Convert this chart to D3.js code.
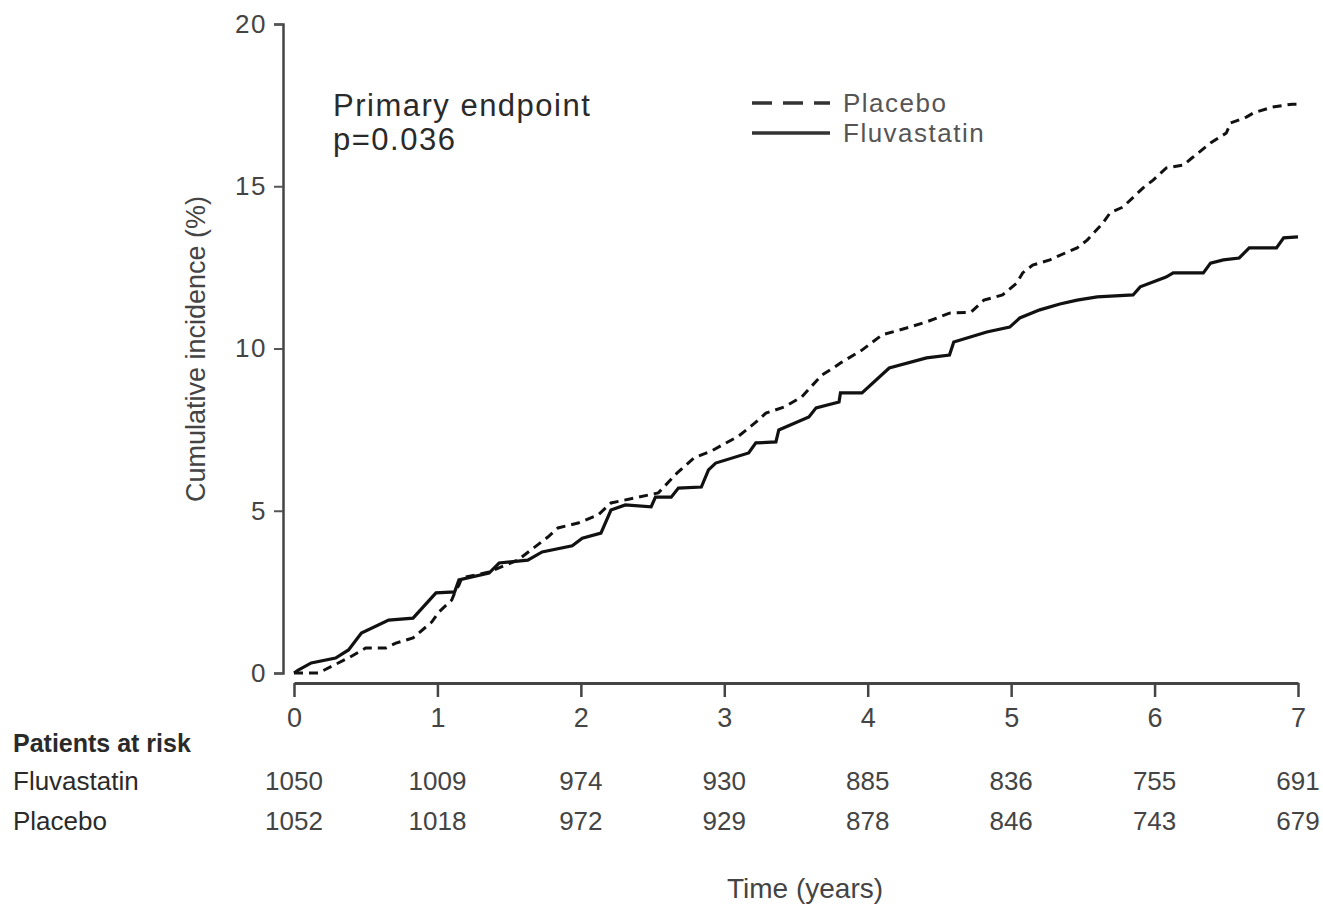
<!DOCTYPE html>
<html>
<head>
<meta charset="utf-8">
<script src="https://cdn.jsdelivr.net/npm/d3@7"></script>
<style>
  body { margin: 0; background: #fff; }
  svg text { font-family: "Liberation Sans", Arial, sans-serif; fill: #2a2a2a; }
</style>
</head>
<body>
<div id="chart"></div>
<script>
// data (time in years, cumulative incidence in %)
const fluvastatin = [
  [0, 0], [0.03, 0.09], [0.12, 0.31], [0.29, 0.46], [0.38, 0.71], [0.47, 1.23],
  [0.66, 1.63], [0.83, 1.69], [0.99, 2.47], [1.12, 2.5], [1.15, 2.87], [1.36, 3.08],
  [1.43, 3.39], [1.63, 3.48], [1.73, 3.73], [1.94, 3.92], [2.01, 4.15], [2.14, 4.31],
  [2.21, 5.02], [2.31, 5.18], [2.49, 5.12], [2.52, 5.42], [2.63, 5.42], [2.68, 5.7],
  [2.84, 5.73], [2.89, 6.26], [2.94, 6.47], [3.17, 6.78], [3.22, 7.09], [3.36, 7.12],
  [3.38, 7.49], [3.59, 7.89], [3.64, 8.17], [3.8, 8.35], [3.81, 8.63], [3.96, 8.63],
  [4.15, 9.4], [4.41, 9.71], [4.57, 9.8], [4.6, 10.2], [4.83, 10.51], [4.99, 10.66],
  [5.06, 10.94], [5.2, 11.19], [5.34, 11.37], [5.46, 11.49], [5.6, 11.59], [5.85, 11.65],
  [5.9, 11.9], [6.08, 12.2], [6.13, 12.33], [6.34, 12.33], [6.39, 12.63], [6.48, 12.73],
  [6.59, 12.79], [6.66, 13.1], [6.85, 13.1], [6.9, 13.41], [7.0, 13.44]
];
const placebo = [
  [0, 0], [0.17, 0], [0.39, 0.49], [0.5, 0.77], [0.64, 0.77], [0.71, 0.92],
  [0.83, 1.08], [0.96, 1.57], [1.01, 1.88], [1.1, 2.25], [1.12, 2.47], [1.15, 2.71],
  [1.17, 2.93], [1.36, 3.11], [1.56, 3.48], [1.77, 4.19], [1.84, 4.47], [1.98, 4.62],
  [2.12, 4.87], [2.21, 5.24], [2.54, 5.55], [2.67, 6.16], [2.79, 6.63], [2.91, 6.84],
  [3.0, 7.06], [3.1, 7.3], [3.22, 7.73], [3.29, 8.01], [3.42, 8.2], [3.54, 8.51],
  [3.68, 9.18], [3.77, 9.43], [3.82, 9.58], [3.96, 9.95], [4.1, 10.42], [4.27, 10.63],
  [4.41, 10.82], [4.57, 11.09], [4.72, 11.12], [4.81, 11.49], [4.94, 11.65], [5.04, 12.02],
  [5.08, 12.33], [5.15, 12.57], [5.27, 12.73], [5.39, 12.97], [5.46, 13.1], [5.53, 13.34],
  [5.64, 13.87], [5.69, 14.18], [5.78, 14.36], [5.92, 14.95], [5.99, 15.19], [6.08, 15.56],
  [6.2, 15.65], [6.26, 15.87], [6.39, 16.33], [6.5, 16.64], [6.53, 16.95], [6.64, 17.13],
  [6.69, 17.26], [6.82, 17.44], [6.96, 17.53], [7.0, 17.53]
];
const xTicks = [0, 1, 2, 3, 4, 5, 6, 7];
const yTicks = [0, 5, 10, 15, 20];
const riskFluvastatin = [1050, 1009, 974, 930, 885, 836, 755, 691];
const riskPlacebo = [1052, 1018, 972, 929, 878, 846, 743, 679];

const W = 1323, H = 904;
const svg = d3.select("#chart").append("svg")
  .attr("width", W)
  .attr("height", H);

const x = d3.scaleLinear().domain([0, 7]).range([294, 1298]);
const y = d3.scaleLinear().domain([0, 20]).range([673, 24]);

// y axis
const yAxis = svg.append("g")
  .attr("transform", "translate(283,0)")
  .call(d3.axisLeft(y).tickValues(yTicks).tickSize(9).tickPadding(7).tickFormat(d3.format("d")));
yAxis.select(".domain").attr("stroke", "#444").attr("stroke-width", 2.5);
yAxis.selectAll(".tick line").attr("stroke", "#555").attr("stroke-width", 2);
yAxis.selectAll(".tick text")
  .style("font-size", "26px").style("letter-spacing", "1.5px")
  .style("fill", "#444").attr("font-family", null);

// x axis
const xAxis = svg.append("g")
  .attr("transform", "translate(0,683)")
  .call(d3.axisBottom(x).tickValues(xTicks).tickSize(14).tickPadding(11)
    .tickSizeOuter(0).tickFormat(d3.format("d")));
xAxis.select(".domain").attr("stroke", "#444").attr("stroke-width", 3);
xAxis.selectAll(".tick line").attr("stroke", "#444").attr("stroke-width", 2.5);
xAxis.selectAll(".tick text")
  .style("font-size", "27px").style("fill", "#444").attr("font-family", null);

// curves
const line = d3.line().x(d => x(d[0])).y(d => y(d[1]));

svg.append("path")
  .datum(placebo)
  .attr("d", line)
  .attr("fill", "none")
  .attr("stroke", "#111")
  .attr("stroke-width", 3)
  .attr("stroke-dasharray", "9,6");

svg.append("path")
  .datum(fluvastatin)
  .attr("d", line)
  .attr("fill", "none")
  .attr("stroke", "#111")
  .attr("stroke-width", 3.2);

// annotation
svg.append("text").attr("x", 333).attr("y", 116)
  .style("font-size", "31px").style("letter-spacing", "1.5px").text("Primary endpoint");
svg.append("text").attr("x", 333).attr("y", 150)
  .style("font-size", "31px").style("letter-spacing", "1.5px").text("p=0.036");

// legend
const legend = [
  {name: "Placebo", dash: "20,11", y: 103},
  {name: "Fluvastatin", dash: null, y: 133}
];
legend.forEach(l => {
  svg.append("line")
    .attr("x1", 752).attr("x2", 830)
    .attr("y1", l.y).attr("y2", l.y)
    .attr("stroke", "#333").attr("stroke-width", 3.5)
    .attr("stroke-dasharray", l.dash);
  svg.append("text").attr("x", 843).attr("y", l.y + 9)
    .style("font-size", "26px").style("letter-spacing", "1.5px")
    .style("fill", "#555").text(l.name);
});

// axis titles
svg.append("text")
  .attr("transform", "translate(205,349) rotate(-90)")
  .attr("text-anchor", "middle")
  .style("font-size", "27px").style("fill", "#444")
  .text("Cumulative incidence (%)");

svg.append("text")
  .attr("x", 805).attr("y", 898)
  .attr("text-anchor", "middle")
  .style("font-size", "28px").style("fill", "#444")
  .text("Time (years)");

// patients at risk table
svg.append("text").attr("x", 13).attr("y", 752)
  .style("font-size", "25px").style("font-weight", "bold")
  .text("Patients at risk");

const rows = [
  {name: "Fluvastatin", values: riskFluvastatin, y: 790},
  {name: "Placebo", values: riskPlacebo, y: 830}
];
rows.forEach(r => {
  svg.append("text").attr("x", 13).attr("y", r.y)
    .style("font-size", "26px").text(r.name);
  svg.selectAll(null)
    .data(r.values)
    .enter().append("text")
    .attr("x", (d, i) => x(xTicks[i]))
    .attr("y", r.y)
    .attr("text-anchor", "middle")
    .style("font-size", "26px").style("fill", "#444")
    .text(d => d);
});
</script>
</body>
</html>
